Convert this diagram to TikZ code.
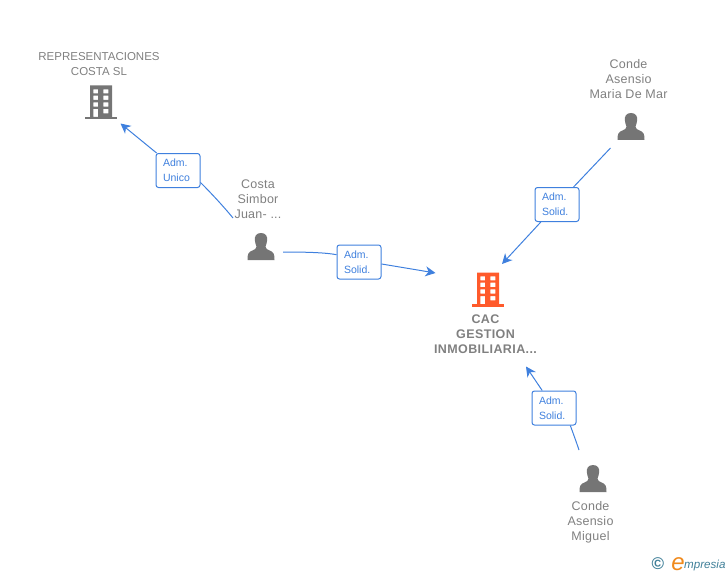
\documentclass[tikz,border=0pt]{standalone}
\usepackage{fontspec}
\setmainfont{Liberation Sans}
\newfontfamily\namefont[LetterSpace=2]{Liberation Sans}
\newfontfamily\cacfont[LetterSpace=3.2]{Liberation Sans}
\usetikzlibrary{arrows.meta}
\definecolor{linkblue}{HTML}{3F80DE}
\definecolor{namegray}{HTML}{808080}
\definecolor{icongray}{HTML}{757575}
\definecolor{iconorange}{HTML}{FF5A2B}
\definecolor{logoblue}{HTML}{3F7F98}
\definecolor{logoorange}{HTML}{F08A1D}
\tikzset{
    conn/.style={linkblue, line width=1pt, -{Stealth[length=10pt,width=10pt,inset=3pt]}},
    connplain/.style={linkblue, line width=1pt},
    admbox/.style={draw=linkblue, fill=white, line width=1pt, rounded corners=2.5pt, text=linkblue, font=\fontsize{10.5}{15}\selectfont, align=left, text width=30pt, inner xsep=7pt, inner ysep=0pt, minimum height=34pt},
    nametext/.style={text=namegray, font=\namefont\fontsize{12.5}{15}\selectfont, align=center, inner sep=0pt},
    pics/building/.style={code={
        \fill [#1, even odd rule] (-11,-16.5) rectangle (11,15)
            (-7.7,-12.7) rectangle (-3,-8.7) (2.3,-12.7) rectangle (7.3,-8.7)
            (-7.7,-6.3) rectangle (-3,-2) (2.3,-6.3) rectangle (7.3,-2)
            (-7.7,0.3) rectangle (-3,4.7) (2.3,0.3) rectangle (7.3,4.7)
            (-7.7,7) rectangle (-3,15) (2.3,7) rectangle (7.3,11.3);
        \fill [#1] (-16,15) rectangle (16,17.5);
    }},
    pics/person/.style={code={
        \fill [icongray] (0,0) .. controls (-4.8,0) and (-6.5,3.5) .. (-6.2,7)
            .. controls (-6,10) and (-5,12) .. (-4.5,13.5)
            .. controls (-4.5,15.5) and (-6,16.5) .. (-8.5,17.5)
            .. controls (-12.5,19) and (-13.5,20.5) .. (-13.5,27)
            -- (13.5,27)
            .. controls (13.5,20.5) and (12.5,19) .. (8.5,17.5)
            .. controls (6,16.5) and (4.5,15.5) .. (4.5,13.5)
            .. controls (5,12) and (6,10) .. (6.2,7)
            .. controls (6.5,3.5) and (4.8,0) .. (0,0) -- cycle;
    }},
}
\begin{document}
\begin{tikzpicture}[x=1pt, y=-1pt]
    \useasboundingbox (0,0) rectangle (728,575);
    % free ends
    \coordinate (repr) at (120.5,123.5);
    \coordinate (cacleft) at (435.5,273);
    \coordinate (cactop) at (502,264);
    \coordinate (cacbot) at (526,366.5);
    \coordinate (costaup) at (233,218);
    \coordinate (costaright) at (283,252);
    \coordinate (maria) at (610.5,148);
    \coordinate (miguel) at (579,450);
    % labels on the links
    \node [admbox] (admunico) at (178,170.5) {Adm.\\Unico};
    \node [admbox] (admcosta) at (359,262) {Adm.\\Solid.};
    \node [admbox] (admmaria) at (557,204.5) {Adm.\\Solid.};
    \node [admbox] (admmiguel) at (554,408) {Adm.\\Solid.};
    % links
    \draw [conn] (admunico) -- (repr);
    \draw [connplain] (costaup) .. controls (224,207) and (212,194) .. (admunico.-28);
    \draw [connplain] (costaright) .. controls (305,252) and (325,252.5) .. (admcosta.162);
    \draw [conn] (admcosta.-5) -- (cacleft);
    \draw [connplain] (maria) -- (admmaria);
    \draw [conn] (admmaria) -- (cactop);
    \draw [connplain] (miguel) .. controls (576,441) and (573,433) .. (admmiguel.-47);
    \draw [conn] (admmiguel) -- (cacbot);
    % icons
    \pic at (101,102) {building=icongray};
    \pic at (488,289) {building=iconorange};
    \pic at (261,233) {person};
    \pic at (631,113) {person};
    \pic at (593,465) {person};
    % names
    \node [nametext, font=\fontsize{11.5}{15}\selectfont] (reprname) at (99,64) {REPRESENTACIONES\\COSTA SL};
    \node [nametext, font=\cacfont\bfseries\fontsize{12.5}{15}\selectfont] (cacname) at (485.5,334) {CAC\\GESTION\\INMOBILIARIA...};
    \node [nametext] (costaname) at (258,199) {Costa\\Simbor\\Juan- ...};
    \node [nametext] (marianame) at (628.5,79) {Conde\\Asensio\\Maria De Mar};
    \node [nametext] (miguelname) at (590.5,522) {Conde\\Asensio\\Miguel};
    % logo
    \node [inner sep=0pt, text=logoblue, font=\bfseries\fontsize{17}{17}\selectfont] (logoc) at (658,564) {©};
    \node [inner sep=0pt, anchor=base, text=logoorange, font=\itshape\fontsize{24}{24}\selectfont] (logoe) at (678,570) {e};
    \node [inner sep=0pt, anchor=base west, text=logoblue, font=\itshape\fontsize{11.6}{13}\selectfont] (logotext) at (684,568) {mpresia};
\end{tikzpicture}
\end{document}
